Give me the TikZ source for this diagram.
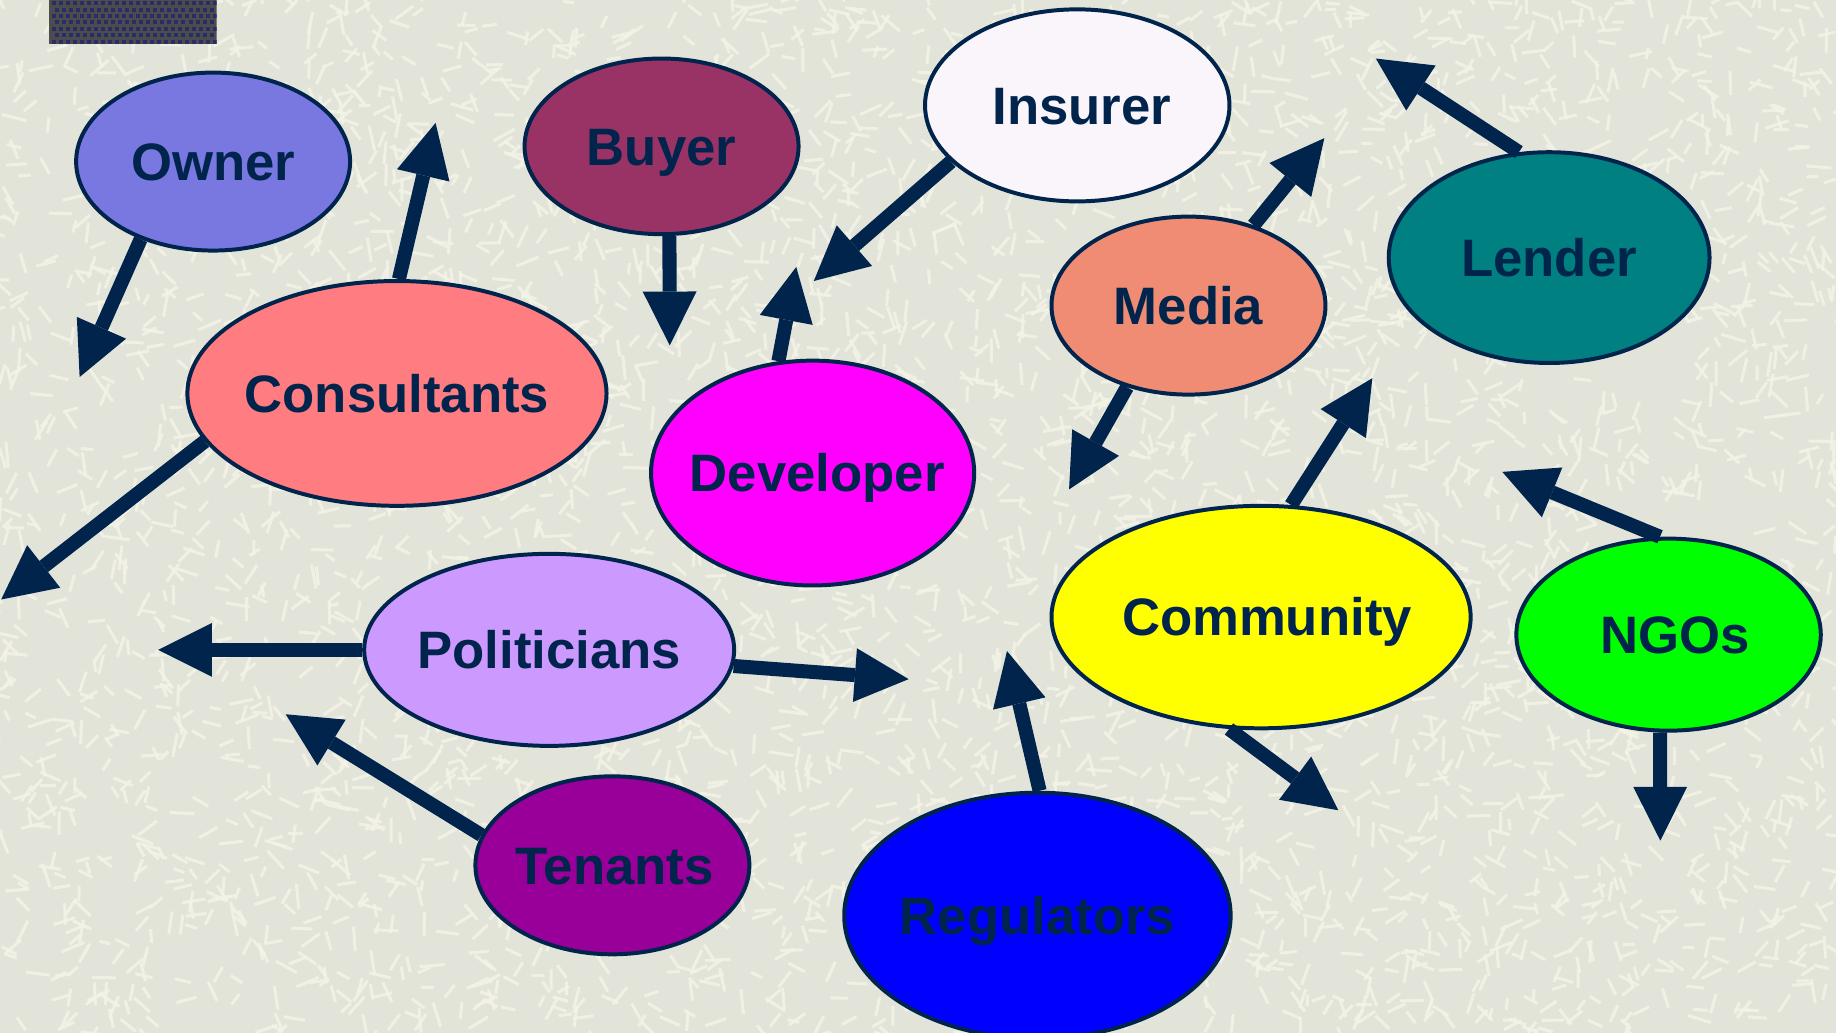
\documentclass[tikz,border=0pt]{standalone}
\usepackage{fontspec}
\setmainfont{Liberation Sans}
\usetikzlibrary{arrows.meta,shapes.geometric}

\definecolor{navy}{RGB}{0,36,76}
\definecolor{paper}{RGB}{227,228,217}
\definecolor{streak}{RGB}{243,243,230}
\definecolor{tab}{RGB}{76,76,76}
\definecolor{tabdot}{RGB}{40,45,105}
\definecolor{ownerc}{RGB}{120,120,224}
\definecolor{buyerc}{RGB}{153,51,102}
\definecolor{insurerc}{RGB}{250,245,250}
\definecolor{lenderc}{RGB}{0,128,128}
\definecolor{mediac}{RGB}{240,140,115}
\definecolor{consc}{RGB}{255,124,128}
\definecolor{devc}{RGB}{255,0,255}
\definecolor{commc}{RGB}{255,255,0}
\definecolor{ngoc}{RGB}{0,255,0}
\definecolor{polc}{RGB}{204,153,255}
\definecolor{tenc}{RGB}{153,0,153}
\definecolor{regc}{RGB}{0,0,255}

\newcommand{\who}[1]{\makebox[0pt]{#1}}

\begin{document}
\begin{tikzpicture}[x=1pt, y=-1pt,
    party/.style={ellipse, draw=navy, line width=3.4pt, text=navy, inner sep=0pt,
      font=\bfseries\fontsize{45}{50}\selectfont, text height=32pt, text depth=0pt},
    link/.style={draw=navy, line width=12pt, -{Triangle[length=46pt,width=46pt,line width=0pt]}},
    grain/.style={streak, line width=2.6pt, opacity=0.85}]
  \useasboundingbox (0,0) rectangle (1568,882);
  \clip (0,0) rectangle (1568,882);

  % paper background with light streaks
  \fill[paper] (0,0) rectangle (1568,882);
  \pgfmathsetseed{17}
  \foreach \i in {1,...,4500}
    \draw[grain] ({rnd*1568},{rnd*882}) -- ++({rnd*360}:{9+rnd*13});

  % dark tab in the corner, dotted
  \begin{scope}
    \clip (42,0) rectangle (185,38);
    \fill[tab] (42,0) rectangle (185,38);
    \foreach \j in {0,...,6}
      \foreach \i in {0,...,23}
        \fill[tabdot] ({44+6*\i+3*mod(\j,2)},{1+5.5*\j}) rectangle ++(3.4,3.4);
  \end{scope}

  % the parties
  \node[party, fill=ownerc,   minimum width=234pt, minimum height=152pt] (owner)    at (182,138)  {\who{Owner}};
  \node[party, fill=buyerc,   minimum width=234pt, minimum height=150pt] (buyer)    at (565,125)  {\who{Buyer}};
  \node[party, fill=insurerc, minimum width=260pt, minimum height=164pt] (insurer)  at (920,90)   {\who{\kern8pt Insurer}};
  \node[party, fill=lenderc,  minimum width=274pt, minimum height=180pt] (lender)   at (1323,220) {\who{Lender}};
  \node[party, fill=mediac,   minimum width=234pt, minimum height=152pt] (media)    at (1015,261) {\who{Media}};
  \node[party, fill=consc,    minimum width=358pt, minimum height=192pt] (cons)     at (339,336)  {\who{Consultants}};
  \node[party, fill=devc,     minimum width=276pt, minimum height=192pt] (dev)      at (694,404)  {\who{\kern8pt Developer}};
  \node[party, fill=commc,    minimum width=358pt, minimum height=190pt] (comm)     at (1077,527) {\who{\kern10pt Community}};
  \node[party, fill=ngoc,     minimum width=260pt, minimum height=164pt] (ngos)     at (1425,542) {\who{\kern12pt NGOs}};
  \node[party, fill=polc,     minimum width=316pt, minimum height=164pt] (pol)      at (469,555)  {\who{Politicians}};
  \node[party, fill=tenc,     minimum width=234pt, minimum height=152pt] (tenants)  at (523,739)  {\who{\kern4pt Tenants}};
  \node[party, fill=regc,     minimum width=330pt, minimum height=210pt] (reg)      at (886,782)  {\who{Regulators}};

  % loose ends of the arrows
  \coordinate (owner-sw)  at (68,322);
  \coordinate (cons-n)    at (372,105);
  \coordinate (cons-sw)   at (1,512);
  \coordinate (buyer-s)   at (572,295);
  \coordinate (ins-sw)    at (695,240);
  \coordinate (dev-n)     at (680,228);
  \coordinate (media-ne)  at (1131,118);
  \coordinate (lender-nw) at (1175,50);
  \coordinate (media-sw)  at (913,418);
  \coordinate (comm-ne)   at (1172,323);
  \coordinate (ngo-nw)    at (1283,403);
  \coordinate (ngo-s)     at (1418,718);
  \coordinate (comm-se)   at (1143,692);
  \coordinate (pol-w)     at (135,555);
  \coordinate (pol-e)     at (776,580);
  \coordinate (ten-nw)    at (244,610);
  \coordinate (reg-n)     at (860,556);

  \draw[link] (owner.227)  -- (owner-sw);
  \draw[link] (cons.89)    -- (cons-n);
  \draw[link] (cons.194)   -- (cons-sw);
  \draw[link] (buyer.275)  -- (buyer-s);
  \draw[link] (insurer.204) -- (ins-sw);
  \draw[link] (dev.107)    -- (dev-n);
  \draw[link] (media.51)   -- (media-ne);
  \draw[link] (lender.106) -- (lender-nw);
  \draw[link] (media.233)  -- (media-sw);
  \draw[link] (comm.75)    -- (comm-ne);
  \draw[link] (ngos.95)    -- (ngo-nw);
  \draw[link] (ngos.265)   -- (ngo-s);
  \draw[link] (comm.254)   -- (comm-se);
  \draw[link] (pol.180)    -- (pol-w);
  \draw[link] (pol.355)    -- (pol-e);
  \draw[link] (tenants.167) -- (ten-nw);
  \draw[link] (reg.89)     -- (reg-n);
\end{tikzpicture}
\end{document}
